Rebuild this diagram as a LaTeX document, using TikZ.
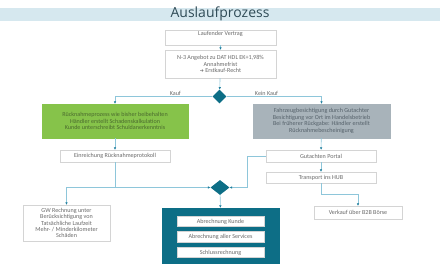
\documentclass[tikz,border=0pt]{standalone}
\usepackage{fontspec}
\setmainfont{Carlito}
\newfontfamily\titlefont{Open Sans}
\newfontfamily\symfont{DejaVu Sans}
\usetikzlibrary{arrows.meta,positioning,shapes.geometric}
\definecolor{BandBlue}{HTML}{D6E8EF}
\definecolor{TitleInk}{HTML}{2F4B56}
\definecolor{BoxLine}{HTML}{D4D4D4}
\definecolor{BoxInk}{HTML}{6A6A6A}
\definecolor{FlowBlue}{HTML}{8EC6DA}
\definecolor{TipBlue}{HTML}{1F7F9E}
\definecolor{KaufGreen}{HTML}{86C34A}
\definecolor{KaufInk}{HTML}{4B6B2E}
\definecolor{GutGray}{HTML}{A8B3BA}
\definecolor{GutInk}{HTML}{56626B}
\definecolor{DeepTeal}{HTML}{0D6E86}

\begin{document}
\begin{tikzpicture}[
    x=1pt,y=-1pt,
    box/.style={draw=BoxLine,fill=white,line width=0.5pt,inner sep=0pt,
      align=center,text=BoxInk,font=\fontsize{6.1}{6.4}\selectfont},
    decision/.style={diamond,fill=DeepTeal,inner sep=0pt},
    flow/.style={draw=FlowBlue,line width=0.6pt,
      -{Latex[length=2.4pt,width=2.6pt,color=TipBlue]}},
    lbl/.style={text=BoxInk,font=\fontsize{6.1}{6.4}\selectfont,inner sep=0.8pt}
  ]
    \useasboundingbox (0,0) rectangle (440,264);
    % title band
    \fill[BandBlue] (0,8) rectangle (440,21);
    \node[text=TitleInk,font=\titlefont\fontsize{14}{14}\selectfont] (title) at (220,14.2) {Auslaufprozess};

    % start and offer
    \node[box,minimum width=111pt,minimum height=15pt,text depth=8pt] (vertrag) at (220.5,37.5) {Laufender Vertrag};
    \node[box,minimum width=111pt,minimum height=28pt] (angebot) at (220.5,64) {N-3 Angebot zu DAT HDL EK+1,98\%\\Annahmefrist\\{\symfont\fontsize{4.8}{6}\selectfont ➔} Erstkauf-Recht};
    \node[decision,minimum width=14pt,minimum height=14pt] (kaufwahl) at (219.5,96.5) {};

    % the two branches
    \node[box,draw=KaufGreen,fill=KaufGreen,text=KaufInk,minimum width=146pt,minimum height=34pt] (ruecknahme) at (115,121) {Rücknahmeprozess wie bisher beibehalten\\Händler erstellt Schadenskalkulation\\Kunde unterschreibt Schuldanerkenntnis};
    \node[box,draw=GutGray,fill=GutGray,text=GutInk,minimum width=137pt,minimum height=34pt] (besichtigung) at (321.5,121) {Fahrzeugbesichtigung durch Gutachter\\Besichtigung vor Ort im Handelsbetrieb\\Bei früherer Rückgabe: Händler erstellt\\Rücknahmebescheinigung};

    \node[box,minimum width=110pt,minimum height=12pt] (protokoll) at (115,156) {Einreichung Rücknahmeprotokoll};
    \node[box,minimum width=110pt,minimum height=12pt] (portal) at (321,156) {Gutachten Portal};
    \node[box,minimum width=110pt,minimum height=11pt] (hub) at (321,177.5) {Transport ins HUB};
    \node[box,minimum width=88pt,minimum height=13pt] (boerse) at (358,212.5) {Verkauf über B2B Börse};
    \node[box,minimum width=87pt,minimum height=36pt] (gwrechnung) at (66.5,223) {GW Rechnung unter\\Berücksichtigung von\\Tatsächliche Laufzeit\\Mehr- / Minderkilometer\\Schäden};

    \node[decision,minimum width=19pt,minimum height=15pt] (abschluss) at (220,187.5) {};

    % billing block
    \node[fill=DeepTeal,minimum width=118pt,minimum height=57pt,inner sep=0pt] (abrechnung) at (221,236.5) {};
    \node[box,minimum width=87pt,minimum height=10.5pt] (kunde) at (220.5,221.5) {Abrechnung Kunde};
    \node[box,minimum width=87pt,minimum height=10.5pt] (services) at (220.5,237) {Abrechnung aller Services};
    \node[box,minimum width=87pt,minimum height=10.5pt] (schluss) at (220.5,252.5) {Schlussrechnung};

    % connectors
    \draw[flow] (vertrag) -- (angebot);
    \draw[flow] (angebot) -- (kaufwahl);
    \draw[flow] (kaufwahl.west) -| node[lbl,pos=0.19,above] (kauf) {Kauf} (ruecknahme.north);
    \draw[flow] (kaufwahl.east) -| node[lbl,pos=0.21,above] (keinkauf) {Kein Kauf} (besichtigung.north);
    \draw[flow] (ruecknahme) -- (protokoll);
    \draw[flow] (besichtigung) -- (portal);
    \draw[flow] (portal) -- (hub);
    \draw[flow] (hub.south) -- ++(0,11) -| (boerse.north);
    \coordinate (split) at (protokoll.south |- abschluss.west);
    \draw[flow] (protokoll.south) -- (split) -- (abschluss.west);
    \draw[flow] (split) -| (gwrechnung.north);
    \draw[flow] (portal.west) -- ++(-18,0) |- (abschluss.east);
    \draw[flow] (abschluss) -- (abrechnung);
\end{tikzpicture}
\end{document}
